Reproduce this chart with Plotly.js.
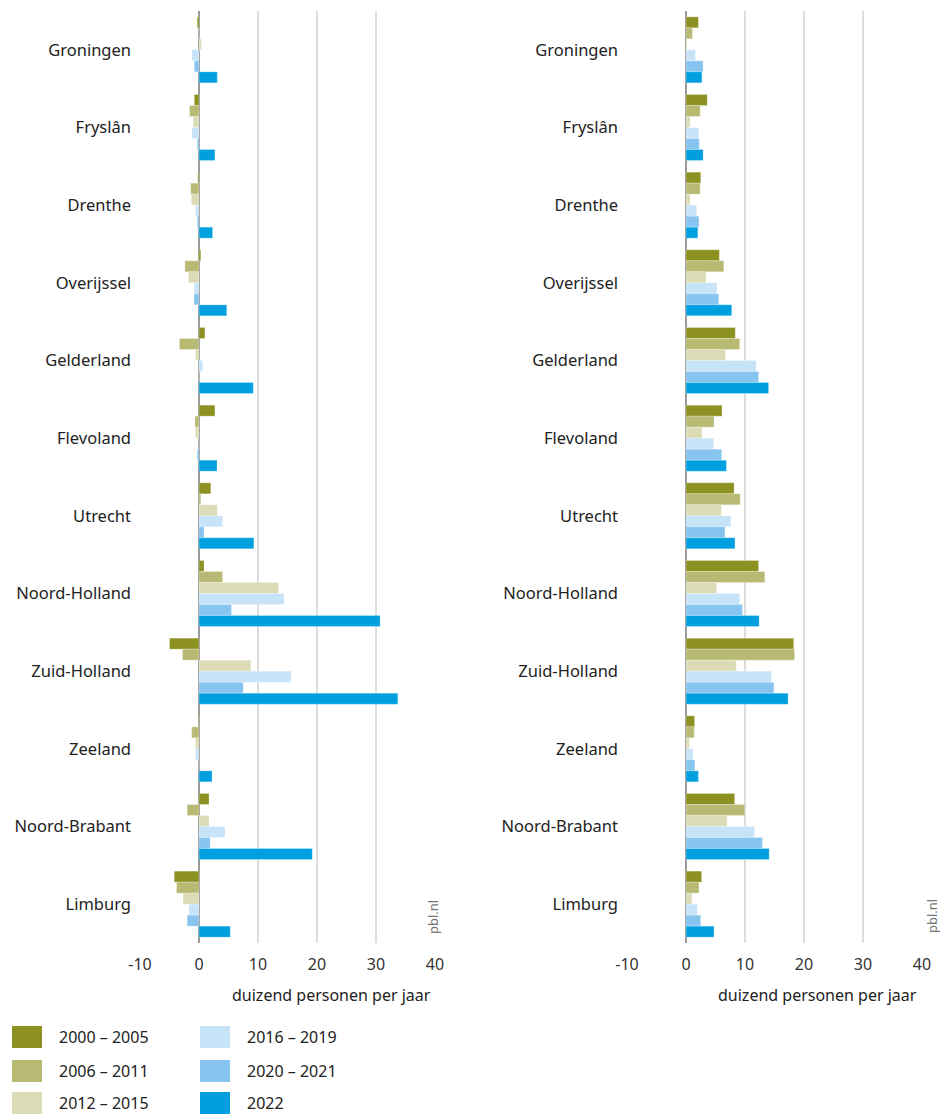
<!DOCTYPE html>
<html>
<head>
<meta charset="utf-8">
<script src="https://cdn.plot.ly/plotly-3.0.1.min.js"></script>
<style>html,body{margin:0;padding:0;background:#fff;}#chart{width:942px;height:1115px;}</style>
</head>
<body>
<div id="chart"></div>
<script>
// Categories
const regions = ['Groningen','Fryslân','Drenthe','Overijssel','Gelderland','Flevoland','Utrecht','Noord-Holland','Zuid-Holland','Zeeland','Noord-Brabant','Limburg'];
const periods = ['2000 – 2005','2006 – 2011','2012 – 2015','2016 – 2019','2020 – 2021','2022'];
const colors = ['#8c9122','#b8ba73','#dbdcb5','#c7e3f8','#87c4ef','#009fe0'];

// Left panel (duizend personen per jaar)
const left_2000_2005 = [-0.3, -0.8, -0.2, 0.3, 1.0, 2.7, 2.0, 0.85, -5.0, -0.1, 1.7, -4.2];
const left_2006_2011 = [0, -1.6, -1.4, -2.4, -3.3, -0.7, 0.3, 4.0, -2.8, -1.25, -2.0, -3.8];
const left_2012_2015 = [0.4, -1.0, -1.3, -1.8, -0.6, -0.6, 3.1, 13.5, 8.8, -0.6, 1.7, -2.7];
const left_2016_2019 = [-1.2, -1.2, -0.6, -0.8, 0.6, 0, 4.0, 14.4, 15.6, -0.6, 4.4, -1.7];
const left_2020_2021 = [-0.8, -0.3, -0.3, -0.85, 0, -0.3, 0.85, 5.5, 7.5, 0, 1.9, -2.0];
const left_2022      = [3.1, 2.7, 2.3, 4.7, 9.2, 3.05, 9.3, 30.7, 33.7, 2.2, 19.2, 5.3];

// Right panel
const right_2000_2005 = [2.1, 3.6, 2.5, 5.65, 8.35, 6.1, 8.15, 12.3, 18.25, 1.45, 8.25, 2.65];
const right_2006_2011 = [1.1, 2.4, 2.4, 6.4, 9.1, 4.75, 9.2, 13.35, 18.4, 1.4, 9.95, 2.2];
const right_2012_2015 = [0.15, 0.7, 0.7, 3.4, 6.7, 2.7, 6.0, 5.2, 8.5, 0.55, 6.95, 1.0];
const right_2016_2019 = [1.6, 2.15, 1.8, 5.25, 11.9, 4.7, 7.6, 9.1, 14.5, 1.2, 11.6, 1.9];
const right_2020_2021 = [2.9, 2.25, 2.2, 5.55, 12.3, 6.05, 6.6, 9.55, 14.9, 1.5, 12.95, 2.5];
const right_2022      = [2.7, 2.9, 2.0, 7.75, 14.0, 6.85, 8.3, 12.4, 17.3, 2.1, 14.1, 4.75];

const tickVals = [-10, 0, 10, 20, 30, 40];
const tickText = ['-10', '0', '10', '20', '30', '40'];
const axisTitle = 'duizend personen per jaar';

const leftSeries = [left_2000_2005, left_2006_2011, left_2012_2015, left_2016_2019, left_2020_2021, left_2022];
const rightSeries = [right_2000_2005, right_2006_2011, right_2012_2015, right_2016_2019, right_2020_2021, right_2022];

const W = 942, H = 1115;
const FONT = 'Noto Sans, Open Sans, sans-serif';
const traces = [];
periods.forEach((p, i) => {
  traces.push({type:'bar', orientation:'h', name:p, y:regions, x:leftSeries[i], xaxis:'x', yaxis:'y',
    marker:{color:colors[i], line:{color:'rgba(255,255,255,0.5)', width:0.5}}, showlegend:false, hoverinfo:'x+y+name'});
});
periods.forEach((p, i) => {
  traces.push({type:'bar', orientation:'h', name:p, y:regions, x:rightSeries[i], xaxis:'x2', yaxis:'y2',
    marker:{color:colors[i], line:{color:'rgba(255,255,255,0.5)', width:0.5}}, showlegend:false, hoverinfo:'x+y+name'});
});

const px = v => v / W;
const py = v => 1 - v / H;
const yDom = [py(943), py(11)];

const xaxisBase = {range:[-10,40], tickvals:tickVals, ticktext:tickText, showgrid:true, gridcolor:'#dddddd', gridwidth:1.5,
  zeroline:true, zerolinecolor:'#9a9a9a', zerolinewidth:1.5, showline:false, ticks:'', fixedrange:true,
  ticklabelstandoff:10, tickfont:{family:FONT, size:16, color:'#333'}};
const yaxisBase = {autorange:'reversed', showgrid:false, zeroline:false, showline:false, ticks:'',
  ticklabelstandoff:8, tickfont:{family:FONT, size:16.5, color:'#222'}, domain:yDom, fixedrange:true};

const shapes = [];
const annotations = [];
// axis titles
annotations.push({xref:'paper', yref:'paper', x:px(331), y:py(995), text:axisTitle, showarrow:false, xanchor:'center', yanchor:'middle', font:{family:FONT, size:16, color:'#222'}});
annotations.push({xref:'paper', yref:'paper', x:px(817), y:py(995), text:axisTitle, showarrow:false, xanchor:'center', yanchor:'middle', font:{family:FONT, size:16, color:'#222'}});
// source
annotations.push({xref:'paper', yref:'paper', x:px(433), y:py(917), text:'pbl.nl', textangle:-90, showarrow:false, xanchor:'center', yanchor:'middle', font:{family:FONT, size:13, color:'#777'}});
annotations.push({xref:'paper', yref:'paper', x:px(932), y:py(916), text:'pbl.nl', textangle:-90, showarrow:false, xanchor:'center', yanchor:'middle', font:{family:FONT, size:13, color:'#777'}});

// legend: two columns, three rows, drawn from periods/colors
const colX = [12, 200];
const rowY = [1037, 1071, 1103];
periods.forEach((p, i) => {
  const c = Math.floor(i / 3), r = i % 3;
  const x0 = colX[c], yc = rowY[r];
  shapes.push({type:'rect', xref:'paper', yref:'paper', x0:px(x0), x1:px(x0+30), y0:py(yc+11), y1:py(yc-11),
    fillcolor:colors[i], line:{width:0}});
  annotations.push({xref:'paper', yref:'paper', x:px(x0+45), y:py(yc), text:p, showarrow:false, xanchor:'left', yanchor:'middle',
    font:{family:FONT, size:16, color:'#222'}});
});

const layout = {
  width:W, height:H, margin:{l:0, r:0, t:0, b:0}, paper_bgcolor:'#fff', plot_bgcolor:'#fff',
  barmode:'group', bargap:0.15, bargroupgap:0,
  xaxis:Object.assign({}, xaxisBase, {domain:[px(140), px(435)], anchor:'y'}),
  yaxis:Object.assign({}, yaxisBase, {anchor:'x'}),
  xaxis2:Object.assign({}, xaxisBase, {domain:[px(627), px(922)], anchor:'y2'}),
  yaxis2:Object.assign({}, yaxisBase, {anchor:'x2'}),
  shapes:shapes, annotations:annotations, showlegend:false,
  font:{family:FONT}
};

Plotly.newPlot('chart', traces, layout, {displayModeBar:false, staticPlot:true});
</script>
</body>
</html>
